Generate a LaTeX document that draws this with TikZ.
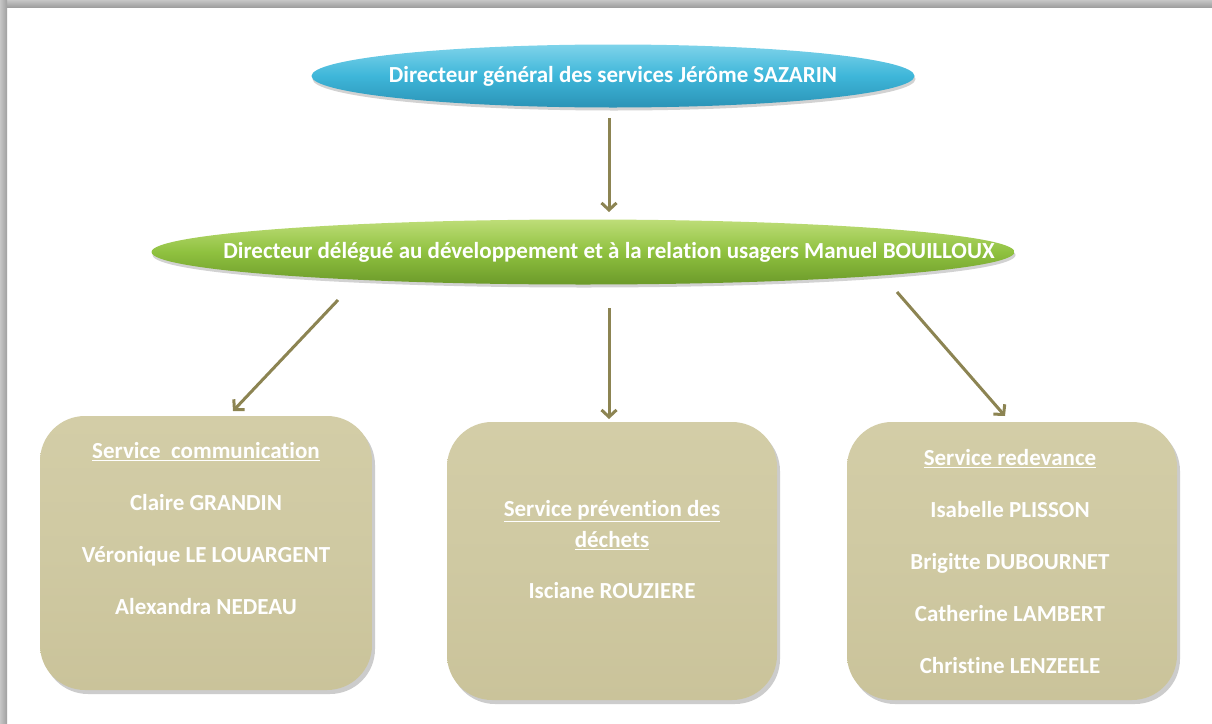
\documentclass[tikz,border=0pt]{standalone}
\usepackage{fontspec}
\setmainfont{Carlito}[Ligatures=NoCommon]
\usetikzlibrary{arrows.meta,shadows,shapes.geometric}
\definecolor{arrowc}{HTML}{8C8452}
\definecolor{boxc}{HTML}{CFC9A2}
\definecolor{boxtop}{HTML}{D3CDA7}
\definecolor{boxbot}{HTML}{CAC39A}
\definecolor{bluetop}{HTML}{7ED3EA}
\definecolor{bluemid}{HTML}{3EB6D9}
\definecolor{bluebot}{HTML}{2B93B6}
\definecolor{greentop}{HTML}{BEDD78}
\definecolor{greenmid}{HTML}{8FC13F}
\definecolor{greenbot}{HTML}{6C9A2A}
\tikzset{
  oval/.style={ellipse, draw=none, inner sep=0pt,
    drop shadow={opacity=0.35, shadow xshift=1pt, shadow yshift=-3pt}},
  ovaltext/.style={text=white, font=\bfseries\fontsize{23}{27}\selectfont},
  svcbox/.style={rectangle, rounded corners=45pt, draw=none,
    top color=boxtop, bottom color=boxbot, middle color=boxc,
    drop shadow={opacity=0.4, shadow xshift=3pt, shadow yshift=-4pt}},
  boxtext/.style={text=white, align=center, anchor=north,
    font=\bfseries\fontsize{23}{52}\selectfont},
  arr/.style={draw=arrowc, line width=3pt,
    -{Straight Barb[length=7pt,width=15pt,line width=3pt]}}
}
\begin{document}
\begin{tikzpicture}[x=1pt,y=-1pt]
\useasboundingbox (0,0) rectangle (1212,723);
\fill[white] (0,0) rectangle (1212,723);
\shade[top color=gray!45, bottom color=gray!75] (0,0) rectangle (1212,7);
\shade[left color=gray!45, right color=gray!75] (0,0) rectangle (7,723);

% top ellipse
\node[oval, minimum width=603pt, minimum height=63pt,
  top color=bluetop, bottom color=bluebot, middle color=bluemid] (dg) at (613,76) {};
\node[ovaltext] (dgt) at (dg.center) {Directeur général des services Jérôme SAZARIN};

% second ellipse
\node[oval, minimum width=863pt, minimum height=65pt,
  top color=greentop, bottom color=greenbot, middle color=greenmid] (dd) at (583,252) {};
\node[ovaltext] (ddt) at (609,252) {Directeur délégué au développement et à la relation usagers Manuel BOUILLOUX};

% boxes
\node[svcbox, minimum width=332pt, minimum height=274pt] (b1) at (206,553) {};
\node[svcbox, minimum width=330pt, minimum height=278pt] (b2) at (612,561) {};
\node[svcbox, minimum width=330pt, minimum height=278pt] (b3) at (1012,561) {};

\node[boxtext] (t1) at (206,439) {\underline{Service\ \ communication}\\Claire GRANDIN\\Véronique LE LOUARGENT\\Alexandra NEDEAU};
\node[boxtext, font=\bfseries\fontsize{23}{31}\selectfont] (t2a) at (612,497) {\underline{Service prévention des}\\\underline{déchets}};
\node[boxtext] (t2b) at (612,579) {Isciane ROUZIERE};
\node[boxtext] (t3) at (1010,446) {\underline{Service redevance}\\Isabelle PLISSON\\Brigitte DUBOURNET\\Catherine LAMBERT\\Christine LENZEELE};

% arrows
\coordinate (s0) at (609,118); \coordinate (e0) at (609,212);
\coordinate (s1) at (338,300); \coordinate (e1) at (233,411);
\coordinate (s2) at (609,308); \coordinate (e2) at (609,419);
\coordinate (s3) at (897,292); \coordinate (e3) at (1005,416);
\draw[arr] (s0) -- (e0);
\draw[arr] (s1) -- (e1);
\draw[arr] (s2) -- (e2);
\draw[arr] (s3) -- (e3);
\end{tikzpicture}
\end{document}
